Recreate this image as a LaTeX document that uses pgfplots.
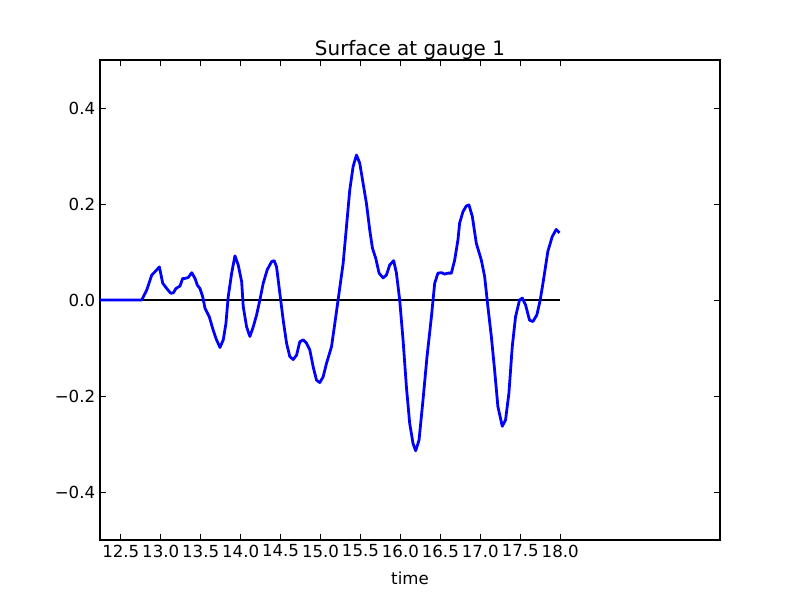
\documentclass[border=0pt]{standalone}
\usepackage{fontspec}
\setmainfont{DejaVu Sans}
\usepackage{pgfplots}
\pgfplotsset{compat=1.18}
\begin{document}
\begin{tikzpicture}
\path (-1in,-0.6in) rectangle (7in,5.4in);
\begin{axis}[
    at={(0,0)}, anchor=south west,
    scale only axis,
    width=6.2in, height=4.8in,
    xmin=12.24, xmax=20,
    ymin=-0.5, ymax=0.5,
    xtick={12.5,13,13.5,14,14.5,15,15.5,16,16.5,17,17.5,18},
    xticklabels={12.5,13.0,13.5,14.0,14.5,15.0,15.5,16.0,16.5,17.0,17.5,18.0},
    ytick={-0.4,-0.2,0,0.2,0.4},
    yticklabels={−0.4,−0.2,0.0,0.2,0.4},
    tick label style={font=\fontsize{12}{14}\selectfont},
    major tick length=4bp,
    every tick/.style={black, line width=0.5bp},
    axis line style={line width=1bp},
    title={Surface at gauge 1},
    title style={font=\fontsize{14.4}{17}\selectfont, yshift=-9pt},
    xlabel={time},
    xlabel style={font=\fontsize{12}{14}\selectfont, yshift=-3.5pt},
    clip=true,
]
% zero line
\addplot[black, line width=0.8bp] coordinates {(12.24,0) (18.0,0)};
% surface elevation
\addplot[blue, line width=2bp, line join=round] coordinates {
(12.241,0) (12.762,0) (12.825,0.021) (12.888,0.052) (12.929,0.059) (12.983,0.069)
(13.025,0.035) (13.075,0.024) (13.125,0.014) (13.158,0.015) (13.191,0.024) (13.241,0.029)
(13.275,0.045) (13.304,0.045) (13.345,0.047) (13.388,0.057) (13.429,0.045) (13.458,0.031)
(13.491,0.024) (13.525,0.007) (13.554,-0.017) (13.608,-0.035) (13.650,-0.059) (13.691,-0.080)
(13.741,-0.099) (13.783,-0.083) (13.816,-0.049) (13.845,0.007) (13.888,0.056) (13.929,0.092)
(13.970,0.073) (14.013,0.038) (14.033,-0.014) (14.075,-0.056) (14.116,-0.076) (14.158,-0.056)
(14.200,-0.031) (14.241,0.000) (14.283,0.035) (14.333,0.063) (14.388,0.080) (14.420,0.082)
(14.450,0.069) (14.491,0.014) (14.533,-0.042) (14.575,-0.090) (14.616,-0.118) (14.658,-0.124)
(14.700,-0.115) (14.741,-0.087) (14.783,-0.083) (14.825,-0.090) (14.866,-0.104) (14.908,-0.139)
(14.950,-0.167) (14.991,-0.172) (15.033,-0.160) (15.075,-0.132) (15.138,-0.097) (15.179,-0.049)
(15.220,0.000) (15.283,0.076) (15.325,0.153) (15.366,0.229) (15.408,0.278) (15.450,0.302)
(15.491,0.285) (15.533,0.243) (15.575,0.201) (15.616,0.146) (15.650,0.108) (15.691,0.087)
(15.733,0.056) (15.783,0.046) (15.825,0.052) (15.866,0.073) (15.916,0.082) (15.950,0.056)
(15.991,0.000) (16.033,-0.083) (16.075,-0.181) (16.116,-0.257) (16.158,-0.299) (16.191,-0.314)
(16.233,-0.292) (16.283,-0.208) (16.333,-0.118) (16.388,-0.035) (16.429,0.035) (16.470,0.056)
(16.513,0.057) (16.554,0.054) (16.595,0.056) (16.638,0.056) (16.679,0.083) (16.720,0.125)
(16.741,0.160) (16.783,0.184) (16.825,0.196) (16.858,0.198) (16.900,0.174) (16.950,0.118)
(17.013,0.083) (17.054,0.049) (17.095,-0.014) (17.138,-0.076) (17.179,-0.146) (17.220,-0.222)
(17.275,-0.263) (17.316,-0.250) (17.358,-0.194) (17.400,-0.097) (17.441,-0.035) (17.491,0.000)
(17.525,0.004) (17.566,-0.010) (17.616,-0.042) (17.658,-0.045) (17.708,-0.031) (17.750,0.000)
(17.791,0.042) (17.845,0.101) (17.900,0.132) (17.950,0.147) (17.991,0.140)
};
\end{axis}
\end{tikzpicture}
\end{document}
